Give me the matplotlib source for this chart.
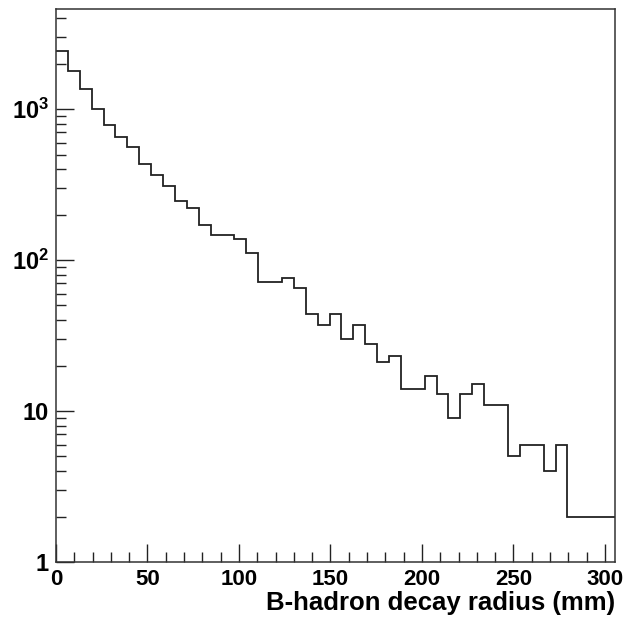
import matplotlib
matplotlib.use("Agg")
import matplotlib.pyplot as plt
import numpy as np
from matplotlib.ticker import FixedLocator, FuncFormatter, LogLocator, NullFormatter, MultipleLocator

plt.rcParams["font.family"] = ["Liberation Sans", "DejaVu Sans"]
plt.rcParams["font.weight"] = "bold"
plt.rcParams["mathtext.fontset"] = "custom"
plt.rcParams["mathtext.rm"] = "Liberation Sans:bold"
plt.rcParams["mathtext.bf"] = "Liberation Sans:bold"

# histogram contents, 47 bins of 6.5 mm starting at 0
bin_width = 6.5
counts = [2430, 1790, 1360, 1005, 787, 653, 557, 434, 367, 308,
          246, 221, 170, 146, 146, 138, 112, 72, 72, 76,
          65, 44, 37, 44, 30, 37, 28, 21, 23, 14,
          14, 17, 13, 9, 13, 15, 11, 11, 5, 6,
          6, 4, 6, 2, 2, 2, 2]
x_ticks = [0, 50, 100, 150, 200, 250, 300]
y_labels = {1: "1", 10: "10", 100: r"$\mathbf{10^{2}}$", 1000: r"$\mathbf{10^{3}}$"}

edges = np.arange(len(counts) + 1) * bin_width

fig = plt.figure(figsize=(6.26, 6.21), dpi=100)
ax = fig.add_axes([56 / 626, 1 - 562 / 621, (615 - 56) / 626, (562 - 9) / 621])

ax.stairs(counts, edges, color="#222222", linewidth=1.3, baseline=None)

ax.set_yscale("log")
ax.set_xlim(0, edges[-1])
ax.set_ylim(1, 4600)

for s in ax.spines.values():
    s.set_linewidth(1.1)
    s.set_color("#333333")

ax.xaxis.set_major_locator(FixedLocator(x_ticks))
ax.xaxis.set_minor_locator(MultipleLocator(10))
ax.yaxis.set_major_locator(FixedLocator(list(y_labels)))
ax.yaxis.set_minor_locator(LogLocator(base=10, subs=np.arange(2, 10)))
ax.yaxis.set_major_formatter(FuncFormatter(lambda v, p: y_labels.get(int(round(v)), "")))
ax.yaxis.set_minor_formatter(NullFormatter())

ax.tick_params(which="both", direction="in", top=False, right=False,
               color="#222222", labelsize=16)
ax.tick_params(which="major", length=13, width=1.0)
ax.tick_params(which="minor", length=7, width=1.0)
ax.tick_params(axis="x", which="major", pad=5)
ax.tick_params(axis="y", which="major", pad=5)
ax.tick_params(axis="y", which="major", labelsize=17)

ax.set_xlabel("B-hadron decay radius (mm)", fontsize=18.5, fontweight="bold",
              loc="right", labelpad=1)

fig.savefig("out.png", dpi=100)
